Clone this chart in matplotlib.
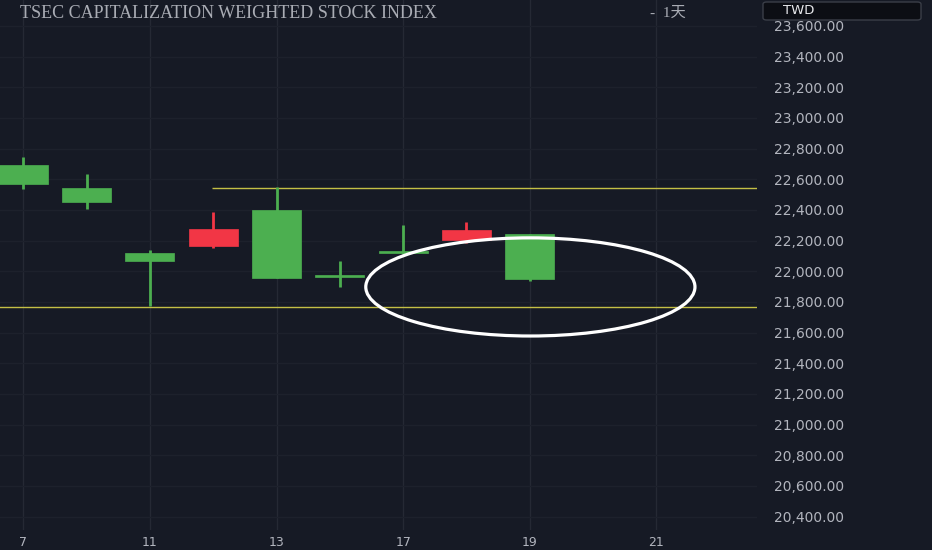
import matplotlib
matplotlib.use("Agg")
import matplotlib.pyplot as plt
from matplotlib.patches import Ellipse, FancyBboxPatch
import numpy as np

# ---- data ----
days = ['7', '10', '11', '12', '13', '14', '17', '18', '19']
opens = [22691, 22545, 22121, 22163, 22398, 21978, 22132, 22202, 22241]
highs = [22743, 22635, 22139, 22387, 22548, 22069, 22302, 22320, 22241]
lows = [22539, 22404, 21773, 22152, 21955, 21896, 22115, 22183, 21939]
closes = [22569, 22452, 22065, 22276, 21958, 21964, 22117, 22267, 21952]

xtick_pos = [0, 2, 4, 6, 8, 10]
xtick_labels = ['7', '11', '13', '17', '19', '21']
ytick_values = list(range(20400, 23601, 200))

resistance = 22540
resistance_start = 2.98
support = 21770

# ---- style ----
BG = '#161a25'
UP = '#f23645'     # Taiwan convention: red = up
DOWN = '#4caf50'   # green = down
LINE = '#c4bf45'
TXT = '#b2b5be'

W, H = 932, 550
fig = plt.figure(figsize=(W / 100, H / 100), dpi=100, facecolor=BG)
ax = fig.add_axes([0, 20 / H, 757 / W, 1 - 20 / H], facecolor=BG)

x = np.arange(len(days))
o = np.array(opens); c = np.array(closes)
colors = [UP if cc > oo else DOWN for oo, cc in zip(o, c)]
ax.vlines(x, lows, highs, colors=colors, linewidth=2, zorder=3)
ax.bar(x, np.abs(c - o), bottom=np.minimum(o, c), width=0.775,
       color=colors, edgecolor=colors, linewidth=0.5, zorder=4)

ax.axhline(support, color=LINE, linewidth=1, zorder=2)
ax.hlines(resistance, resistance_start, 11.59, color=LINE, linewidth=1, zorder=2)

ell = Ellipse((8.01, 21898), width=5.2, height=640, fill=False,
              edgecolor='white', linewidth=2.3, zorder=6)
ax.add_patch(ell)

ax.set_xlim(-0.368, 11.59)
ax.set_ylim(20313, 23769)

ax.set_xticks(xtick_pos)
ax.set_xticklabels(xtick_labels)
ax.set_yticks(ytick_values)
ax.set_yticklabels([f"{v:,.2f}" for v in ytick_values])
ax.yaxis.tick_right()
ax.tick_params(axis='y', length=0, pad=12, labelsize=10, labelcolor=TXT)
ax.tick_params(axis='x', length=0, pad=4, labelsize=9, labelcolor=TXT)
for lab in ax.get_yticklabels():
    lab.set_ha('left')

ax.grid(axis='x', color='#252934', linewidth=1, zorder=0)
ax.grid(axis='y', color='#1d212c', linewidth=1, zorder=0)
for s in ax.spines.values():
    s.set_visible(False)

# title
fig.text(20 / W, 1 - 13 / H, 'TSEC CAPITALIZATION WEIGHTED STOCK INDEX',
         family=['Liberation Serif', 'DejaVu Serif'], fontsize=13,
         color='#a9acb4', va='center', ha='left')
fig.text(650 / W, 1 - 13 / H, '-  1天',
         family=['Liberation Serif', 'Noto Sans CJK SC'], fontsize=11,
         color='#a9acb4', va='center', ha='left')

# currency box
box = FancyBboxPatch((763 / W, 1 - 20 / H), 158 / W, 18 / H,
                     boxstyle='round,pad=0,rounding_size=0.004',
                     transform=fig.transFigure, facecolor='#0c0e14',
                     edgecolor='#3a3e48', linewidth=1, zorder=10)
fig.patches.append(box)
fig.text(783 / W, 1 - 11 / H, 'TWD', color='#e8e9ec', fontsize=9.5,
         va='center', ha='left', zorder=11)

fig.savefig('out.png', dpi=100, facecolor=BG)
